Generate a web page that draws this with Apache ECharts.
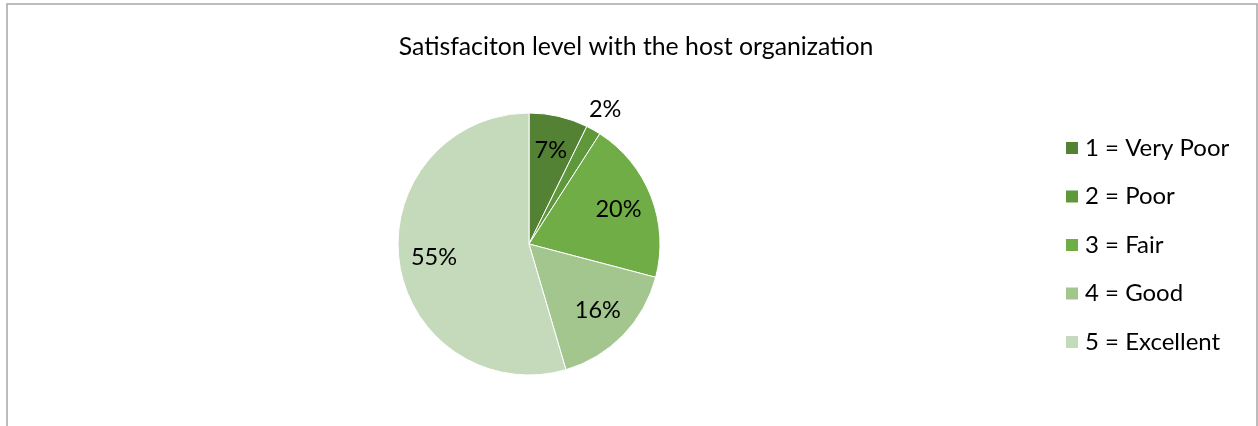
<!DOCTYPE html>
<html>
<head>
<meta charset="utf-8">
<script src="https://cdn.jsdelivr.net/npm/echarts@6/dist/echarts.min.js"></script>
<style>
  html, body { margin: 0; padding: 0; background: #fff; }
  #chart { width: 1258px; height: 426px; }
</style>
</head>
<body>
<div id="chart"></div>
<script>
// survey answers (counts)
var categories = ['1 = Very Poor', '2 = Poor', '3 = Fair', '4 = Good', '5 = Excellent']
var responses = [4, 1, 11, 9, 30]
var sliceColors = ['#548235', '#5e983b', '#70ad47', '#a3c68f', '#c5d9bb']

var FONT = 'Lato'

var chart = echarts.init(document.getElementById('chart'))

function pieData(showIdx) {
  return categories.map(function(name, i) {
    var item = { name: name, value: responses[i] }
    if (showIdx) {
      item.label = { show: showIdx.indexOf(i) !== -1 }
    }
    return item
  })
}

var pctLabel = function(p) {
  return Math.round(p.percent) + '%'
}

chart.setOption({
  animation: false,
  color: sliceColors,
  title: {
    text: 'Satisfaciton level with the host organization',
    left: 631,
    top: 30,
    textAlign: 'center',
    textStyle: { fontFamily: FONT, fontSize: 24.8, fontWeight: 'normal', color: '#000' }
  },
  legend: {
    orient: 'vertical',
    left: 1059,
    top: 131,
    icon: 'rect',
    itemWidth: 14,
    itemHeight: 14,
    itemGap: 24.5,
    data: categories,
    textStyle: { fontFamily: FONT, fontSize: 24, color: '#000', padding: [0, 0, 0, 1] }
  },
  graphic: [{
    type: 'rect',
    shape: { x: 7, y: 4, width: 1250, height: 440 },
    style: { fill: 'none', stroke: '#a6a6a6', lineWidth: 1.5 },
    silent: true
  }],
  series: [
    {
      // the pie itself
      type: 'pie',
      center: [529, 244],
      radius: [0, 131],
      startAngle: 90,
      clockwise: true,
      data: pieData(),
      itemStyle: { borderColor: '#fff', borderWidth: 1 },
      label: { show: false },
      labelLine: { show: false },
      emphasis: { disabled: true }
    },
    {
      // transparent ring, only used to put inner labels further out
      type: 'pie',
      center: [529, 244],
      radius: [55, 131],
      startAngle: 90,
      silent: true,
      legendHoverLink: false,
      data: pieData([0, 2, 3, 4]),
      itemStyle: { color: 'rgba(0,0,0,0)' },
      label: {
        position: 'inside',
        formatter: pctLabel,
        fontFamily: FONT,
        fontSize: 23.5,
        color: '#000'
      },
      labelLine: { show: false }
    },
    {
      // outer ring for the small 2% slice label
      type: 'pie',
      center: [529, 244],
      radius: [146, 158],
      startAngle: 90,
      silent: true,
      legendHoverLink: false,
      data: pieData([1]),
      itemStyle: { color: 'rgba(0,0,0,0)' },
      label: {
        position: 'inside',
        formatter: pctLabel,
        fontFamily: FONT,
        fontSize: 23.5,
        color: '#000'
      },
      labelLine: { show: false }
    }
  ]
})
</script>
</body>
</html>
